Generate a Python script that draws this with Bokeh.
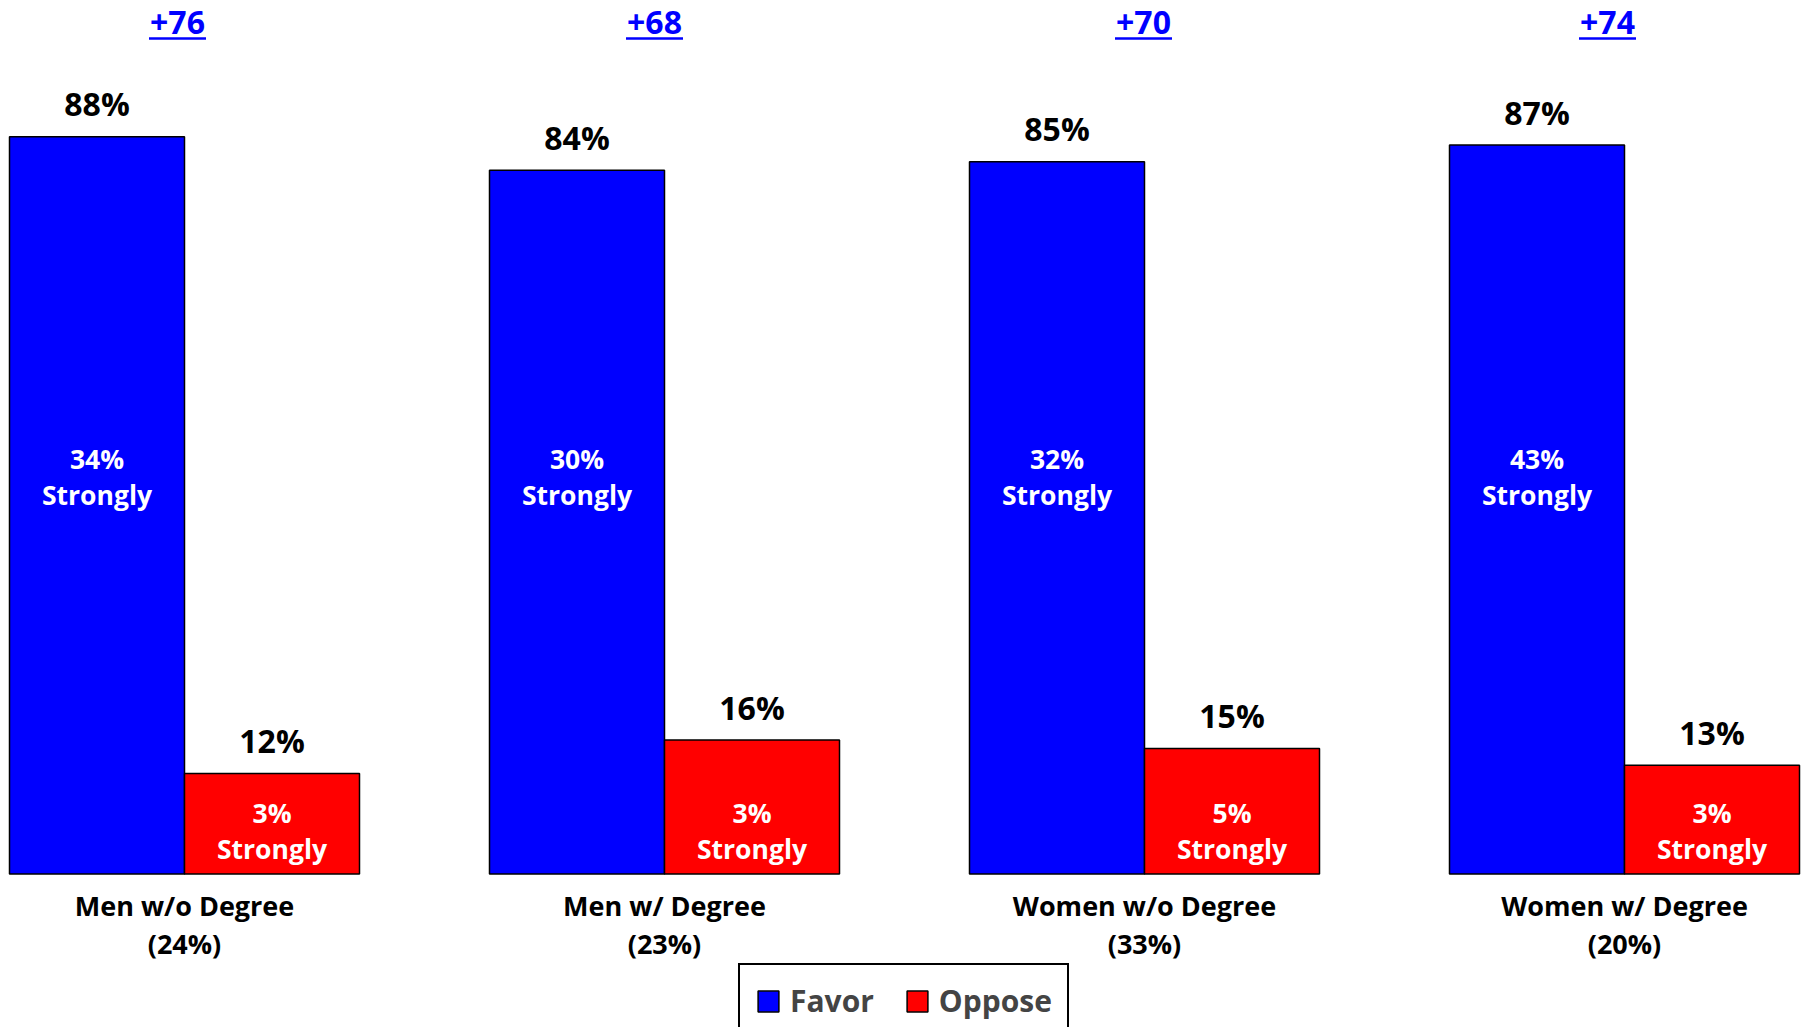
from bokeh.plotting import figure
from bokeh.models import ColumnDataSource, Range1d, Legend, LegendItem
from bokeh.core.properties import value
from bokeh.embed import file_html
from bokeh.resources import INLINE

# ---------------- data ----------------
categories = ["Men w/o Degree", "Men w/ Degree", "Women w/o Degree", "Women w/ Degree"]
shares = ["24%", "23%", "33%", "20%"]
favor = [88, 84, 85, 87]
oppose = [12, 16, 15, 13]
favor_strong = [34, 30, 32, 43]
oppose_strong = [3, 3, 5, 3]
series = ["Favor", "Oppose"]

# ---------------- layout constants ----------------
W, H = 1804, 1027
PX_PER_CAT = 480.0
PX_PER_PCT = 8.38
BASE_PX = 873.6               # baseline in canvas px
BAR_W = 175.0 / PX_PER_CAT
FONT = "Open Sans"
BLUE = "#0000FF"
RED = "#FF0000"
DIFF_DX = [-7, -10, -1, -17]  # horizontal nudges of the margin labels (px)
UL_HALF = 28.5                # half length of the underline (px)


def y_of(px):
    return (BASE_PX - px) / PX_PER_PCT


x0 = -184 / PX_PER_CAT
x_range = Range1d(x0, x0 + W / PX_PER_CAT)
y_range = Range1d(y_of(H), y_of(0))

idx = list(range(len(categories)))
n = len(idx)
src = ColumnDataSource(dict(
    i=idx,
    xb=[i - BAR_W / 2 for i in idx],
    xr=[i + BAR_W / 2 for i in idx],
    xd=[i + d / PX_PER_CAT for i, d in zip(idx, DIFF_DX)],
    favor=favor,
    oppose=oppose,
    favor_lbl=[f"{v}%" for v in favor],
    oppose_lbl=[f"{v}%" for v in oppose],
    fs_lbl=[f"{v}%\nStrongly" for v in favor_strong],
    os_lbl=[f"{v}%\nStrongly" for v in oppose_strong],
    cat_lbl=[f"{c}\n({s})" for c, s in zip(categories, shares)],
    diff_lbl=[f"+{f - o}" for f, o in zip(favor, oppose)],
    ul0=[i + (d - UL_HALF) / PX_PER_CAT for i, d in zip(idx, DIFF_DX)],
    ul1=[i + (d + UL_HALF) / PX_PER_CAT for i, d in zip(idx, DIFF_DX)],
    diff_y=[y_of(22)] * n,
    ul_y=[y_of(38)] * n,
    fs_y=[y_of(476)] * n,
    os_y=[y_of(830)] * n,
    cat_y=[y_of(924)] * n,
))

p = figure(width=W, height=H, x_range=x_range, y_range=y_range,
           output_backend="svg", toolbar_location=None, min_border=0)
p.axis.visible = False
p.grid.visible = False
p.outline_line_color = None
p.background_fill_color = "white"
p.border_fill_color = "white"

rb = p.vbar(x="xb", top="favor", bottom=0, width=BAR_W, source=src,
            fill_color=BLUE, line_color="black", line_width=1.5)
rr = p.vbar(x="xr", top="oppose", bottom=0, width=BAR_W, source=src,
            fill_color=RED, line_color="black", line_width=1.5)

common = dict(source=src, text_font=value(FONT), text_font_style="bold",
              text_align="center", text_baseline="middle")

# value labels above bars
p.text(x="xb", y="favor", text="favor_lbl", y_offset=-33,
       text_font_size="32px", text_color="black", **common)
p.text(x="xr", y="oppose", text="oppose_lbl", y_offset=-33,
       text_font_size="32px", text_color="black", **common)

# inside labels
p.text(x="xb", y="fs_y", text="fs_lbl", text_font_size="26.5px",
       text_line_height=1.0, text_color="white", **common)
p.text(x="xr", y="os_y", text="os_lbl", text_font_size="26.5px",
       text_line_height=1.0, text_color="white", **common)

# category labels
p.text(x="i", y="cat_y", text="cat_lbl", text_font_size="27px",
       text_line_height=1.03, text_color="black", **common)

# margin (difference) labels, underlined
p.text(x="xd", y="diff_y", text="diff_lbl", text_font_size="32px",
       text_color=BLUE, **common)
p.segment(x0="ul0", y0="ul_y", x1="ul1", y1="ul_y", source=src,
          line_color=BLUE, line_width=2.5)

legend = Legend(items=[LegendItem(label=series[0], renderers=[rb]),
                       LegendItem(label=series[1], renderers=[rr])],
                orientation="horizontal", location=(738, -11),
                label_text_font=FONT, label_text_font_style="bold",
                label_text_font_size="30px", glyph_width=26, glyph_height=26,
                label_standoff=9, spacing=30, padding=15, margin=0,
                border_line_color="black", border_line_width=2,
                border_line_alpha=1.0,
                background_fill_color="white", background_fill_alpha=1.0)
p.add_layout(legend)

open("out.html", "w").write(file_html(p, INLINE))
